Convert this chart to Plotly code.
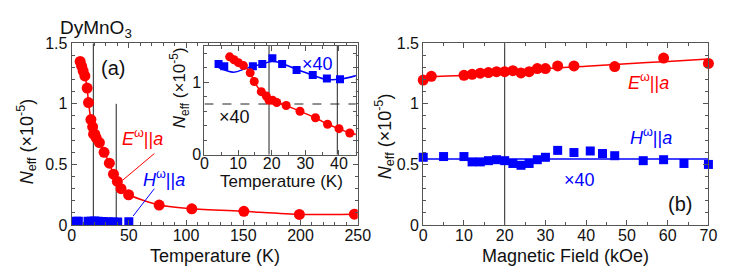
import plotly.graph_objects as go

W, H = 731, 272

# ---------------- data ----------------
# (a) E||a, temperature dependence (red circles)
T_red = [7.5, 8.8, 10.1, 11.6, 13.6, 14.8, 16.9, 18.4, 19.2, 20.3, 21.5, 24.3, 28.4, 33.0,
         36.6, 40.0, 43.2, 49.8, 76.5, 105, 150.5, 199, 247]
N_red = [1.35, 1.31, 1.27, 1.23, 1.13, 1.01, 0.87, 0.81, 0.75, 0.75, 0.72, 0.68, 0.60, 0.51,
         0.42, 0.36, 0.30, 0.25, 0.165, 0.134, 0.113, 0.088, 0.09]

# (a) H||a, temperature dependence, values x40 (blue squares)
T_blue = [4.2, 5.9, 14.4, 17.2, 20.2, 23.1, 27.4, 32.2, 36.4, 40.3, 50.0]
N_blue_x40 = [1.25, 1.22, 1.22, 1.25, 1.33, 1.25, 1.17, 1.10, 1.05, 1.04, 1.08]
SCALE = 40

# inset blue guide curve (x40)
T_blue_fit = [4.2, 8.7, 12.6, 17.5, 20.4, 23.3, 27.2, 32.2, 36.1, 40.0, 45.4]
N_blue_fit = [1.204, 1.139, 1.195, 1.256, 1.29, 1.256, 1.182, 1.096, 1.04, 1.04, 1.096]

# (b) magnetic field dependence
H_red = [0, 2, 10, 12, 14, 16, 18, 20, 22, 24, 26, 28, 30, 33, 37, 47, 59, 70]
N_red_b = [1.196, 1.227, 1.235, 1.243, 1.253, 1.258, 1.265, 1.265, 1.273, 1.255, 1.265,
           1.291, 1.291, 1.312, 1.312, 1.307, 1.377, 1.333]
H_red_fit = [0, 10, 20, 30, 40, 50, 60, 70]
N_red_fit = [1.22, 1.235, 1.26, 1.29, 1.31, 1.33, 1.35, 1.37]

H_blue = [0, 5, 10, 12, 14, 16, 18, 20, 22, 24, 26, 28, 30, 33, 37, 41, 44, 47, 54, 59, 64, 70]
N_blue_b = [0.559, 0.565, 0.565, 0.521, 0.521, 0.531, 0.539, 0.531, 0.508, 0.493, 0.508,
            0.539, 0.559, 0.616, 0.598, 0.611, 0.590, 0.572, 0.531, 0.539, 0.508, 0.500]
H_blue_fit = [0, 70]
N_blue_fit_b = [0.544, 0.544]

RED = "#ff0000"
BLUE = "#0000ff"
FONT = "Liberation Sans"
TXT = "#111111"
AX = "#555555"

def px(x):
    return x / W

def py(y):
    return 1 - y / H

fig = go.Figure()

# main (a)
fig.add_trace(go.Scatter(x=T_red, y=N_red, mode="lines+markers", line=dict(color=RED, width=1.5, shape="spline", smoothing=0.6),
                         marker=dict(color=RED, size=11, symbol="circle"), xaxis="x", yaxis="y", showlegend=False))
fig.add_trace(go.Scatter(x=T_blue, y=[v / SCALE for v in N_blue_x40], mode="markers",
                         marker=dict(color=BLUE, size=9, symbol="square"), xaxis="x", yaxis="y", showlegend=False))
# inset
fig.add_trace(go.Scatter(x=T_blue_fit, y=N_blue_fit, mode="lines", line=dict(color=BLUE, width=1.5, shape="spline"),
                         xaxis="x3", yaxis="y3", showlegend=False))
fig.add_trace(go.Scatter(x=T_blue, y=N_blue_x40, mode="markers", marker=dict(color=BLUE, size=8, symbol="square"),
                         xaxis="x3", yaxis="y3", showlegend=False))
fig.add_trace(go.Scatter(x=T_red, y=N_red, mode="lines+markers", line=dict(color=RED, width=1.5, shape="spline", smoothing=0.6),
                         marker=dict(color=RED, size=9, symbol="circle"), xaxis="x3", yaxis="y3", showlegend=False))
# (b)
fig.add_trace(go.Scatter(x=H_red_fit, y=N_red_fit, mode="lines", line=dict(color=RED, width=1.5, shape="spline"),
                         xaxis="x2", yaxis="y2", showlegend=False))
fig.add_trace(go.Scatter(x=H_red, y=N_red_b, mode="markers", marker=dict(color=RED, size=11, symbol="circle"),
                         xaxis="x2", yaxis="y2", showlegend=False, cliponaxis=False))
fig.add_trace(go.Scatter(x=H_blue_fit, y=N_blue_fit_b, mode="lines", line=dict(color=BLUE, width=1.5),
                         xaxis="x2", yaxis="y2", showlegend=False))
fig.add_trace(go.Scatter(x=H_blue, y=N_blue_b, mode="markers", marker=dict(color=BLUE, size=9, symbol="square"),
                         xaxis="x2", yaxis="y2", showlegend=False, cliponaxis=False))

def axis(dom, rng, dtick, minor, anchor, ticksize=16, standoff=0, **kw):
    d = dict(domain=dom, range=rng, dtick=dtick, tick0=0, anchor=anchor, showgrid=False, zeroline=False,
             showline=True, linecolor=AX, linewidth=1, mirror="allticks", ticks="inside", ticklen=5,
             tickcolor=AX, tickfont=dict(family=FONT, size=ticksize, color=TXT),
             ticklabelstandoff=standoff,
             minor=dict(dtick=minor, ticks="inside", ticklen=3, tickcolor=AX, showgrid=False))
    d.update(kw)
    return d

ya_dom = [py(223), py(29)]
fig.update_layout(
    width=W, height=H, margin=dict(l=0, r=0, t=0, b=0),
    paper_bgcolor="white", plot_bgcolor="white",
    xaxis=axis([px(61), px(354)], [0, 250], 50, 10, "y", standoff=-4),
    yaxis=axis(ya_dom, [0, 1.5], 0.5, 0.1, "x", standoff=0),
    xaxis2=axis([px(421), px(713)], [0, 70], 10, 5, "y2", standoff=-4),
    yaxis2=axis(ya_dom, [0, 1.5], 0.5, 0.1, "x2", standoff=0),
    xaxis3=axis([px(197), px(352)], [0, 45], 10, 5, "y3", standoff=-6),
    yaxis3=axis([py(148), py(32)], [0, 1.5], 1, 0.2, "x3", standoff=-1,
                tickmode="array", tickvals=[0, 1]),
)
fig.layout.yaxis3.minor = dict(tickmode="array", tickvals=[0.2, 0.4, 0.6, 0.8, 1.2, 1.4], ticks="inside",
                               ticklen=3, tickcolor=AX, showgrid=False)

shapes = []
def vline(xv, y1, xr, yr):
    shapes.append(dict(type="line", xref=xr, yref=yr, x0=xv, x1=xv, y0=0, y1=y1,
                       line=dict(color="#222222", width=1), layer="below"))
vline(19, 1.5, "x", "y")
vline(39, 1.0, "x", "y")
vline(19.2, 1.5, "x3", "y3")
vline(39.5, 1.5, "x3", "y3")
vline(20, 1.5, "x2", "y2")
shapes.append(dict(type="line", xref="x3", yref="y3", x0=0, x1=45, y0=0.7, y1=0.7,
                   line=dict(color="#222222", width=1, dash="dash"), layer="below"))
shapes.append(dict(type="line", xref="x", yref="y", x0=44.6, x1=72.3, y0=0.37, y1=0.59,
                   line=dict(color=RED, width=1)))
shapes.append(dict(type="line", xref="x", yref="y", x0=53.8, x1=72.3, y0=0.075, y1=0.30,
                   line=dict(color=BLUE, width=1)))
fig.update_layout(shapes=shapes)

ann = []
def text(x, y, s, size=16, color=TXT, angle=0):
    ann.append(dict(x=px(x), y=py(y), xref="paper", yref="paper", text=s, showarrow=False,
                    font=dict(family=FONT, size=size, color=color), textangle=angle,
                    xanchor="center", yanchor="middle"))

NEFF = "<i>N</i><sub>eff</sub> (×10<sup>-5</sup>)"
text(86, 14, "DyMnO<sub>3</sub>", 19)
text(15, 134, NEFF, 18, angle=-90)
text(381, 128, NEFF, 18, angle=-90)
text(171, 77, NEFF, 17, angle=-90)
text(208, 256, "Temperature (K)", 18)
text(567, 256, "Magnetic Field (kOe)", 18)
text(276, 176, "Temperature (K)", 17)
text(103.5, 56, "(a)", 20)
text(684, 200, "(b)", 20)
text(133.5, 130, "<i>E</i><sup>ω</sup>||<i>a</i>", 18, RED)
text(156, 173, "<i>H</i><sup>ω</sup>||<i>a</i>", 18, BLUE)
text(652, 70, "<i>E</i><sup>ω</sup>||<i>a</i>", 18, RED)
text(654, 128, "<i>H</i><sup>ω</sup>||<i>a</i>", 18, BLUE)
text(581.5, 175, "×40", 18, BLUE)
text(313, 51, "×40", 18, BLUE)
text(227.5, 108, "×40", 18, TXT)
fig.update_layout(annotations=ann)

fig.write_html("out.html")
